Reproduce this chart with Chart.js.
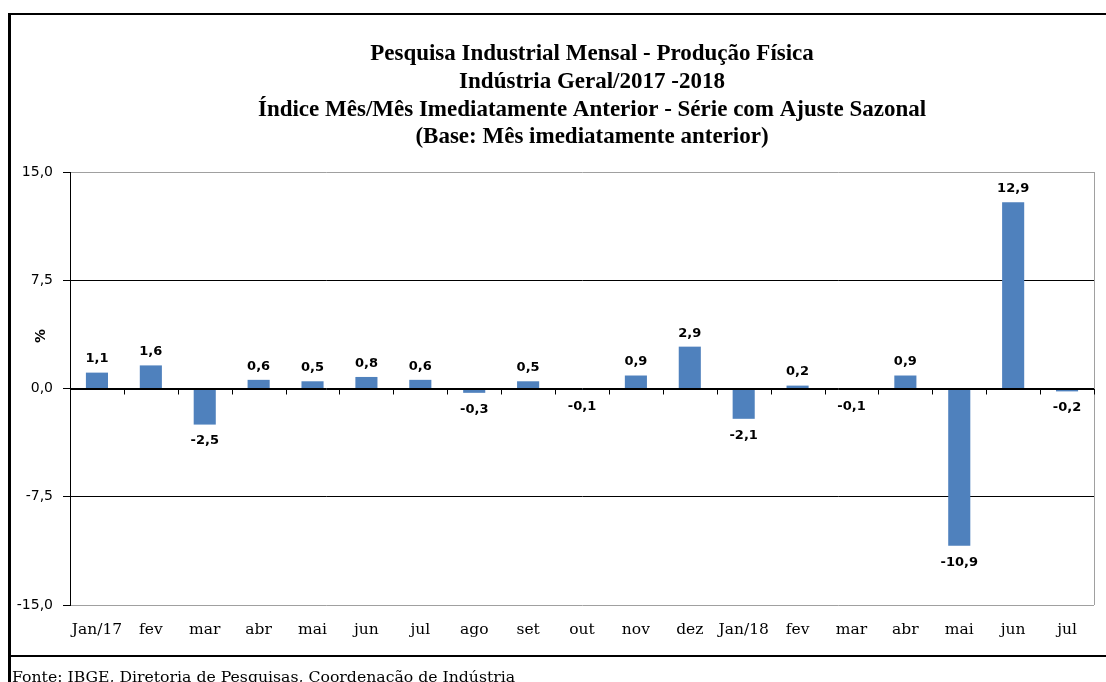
<!DOCTYPE html>
<html><head><meta charset="utf-8">
<script src="https://cdn.jsdelivr.net/npm/chart.js@4"></script>
<style>html,body{margin:0;padding:0;background:#fff}#wrap{width:1106px;height:682px;position:relative}</style>
</head><body><div id="wrap"><canvas id="c" width="1106" height="682"></canvas></div>
<script>
const categories = ['Jan/17','fev','mar','abr','mai','jun','jul','ago','set','out','nov','dez','Jan/18','fev','mar','abr','mai','jun','jul'];
const values = [1.1,1.6,-2.5,0.6,0.5,0.8,0.6,-0.3,0.5,-0.1,0.9,2.9,-2.1,0.2,-0.1,0.9,-10.9,12.9,-0.2];
const yMin = -15, yMax = 15, yStep = 7.5;
const titleLines = [
  'Pesquisa Industrial Mensal - Produção Física',
  'Indústria Geral/2017 -2018',
  'Índice Mês/Mês Imediatamente Anterior - Série com Ajuste Sazonal',
  '(Base: Mês imediatamente anterior)'
];
const yAxisTitle = '%';
const sourceText = 'Fonte: IBGE, Diretoria de Pesquisas, Coordenação de Indústria';

const fmt = v => v.toFixed(1).replace('.', ',');
const SERIF = '"Liberation Serif", "DejaVu Serif", serif';
const DSERIF = '"DejaVu Serif", "Liberation Serif", serif';
const SANS = '"DejaVu Sans", Verdana, sans-serif';

const framePlugin = {
  id: 'frame',
  beforeDraw(chart) {
    const ctx = chart.ctx;
    ctx.save();
    ctx.fillStyle = '#fff';
    ctx.fillRect(0, 0, chart.width, chart.height);
    ctx.strokeStyle = '#000';
    ctx.lineWidth = 2;
    ctx.beginPath(); ctx.moveTo(8, 14); ctx.lineTo(1106, 14); ctx.stroke();
    ctx.beginPath(); ctx.moveTo(8, 656); ctx.lineTo(1106, 656); ctx.stroke();
    ctx.lineWidth = 3;
    ctx.beginPath(); ctx.moveTo(9.5, 13); ctx.lineTo(9.5, 682); ctx.stroke();
    // title
    ctx.fillStyle = '#000';
    ctx.textAlign = 'center';
    ctx.textBaseline = 'alphabetic';
    ctx.font = 'bold 23px ' + SERIF;
    const ys = [60, 88, 116, 143];
    titleLines.forEach((t, i) => ctx.fillText(t, 592, ys[i]));
    // source
    ctx.textAlign = 'left';
    ctx.font = '15.7px ' + DSERIF;
    ctx.fillText(sourceText, 12, 682);
    // y axis title
    ctx.save();
    ctx.translate(41, 336);
    ctx.rotate(-Math.PI / 2);
    ctx.textAlign = 'center';
    ctx.textBaseline = 'middle';
    ctx.font = 'bold 14px ' + SANS;
    ctx.fillText(yAxisTitle, 0, 0);
    ctx.restore();
    ctx.restore();
  },
  afterDatasetsDraw(chart) {
    const ctx = chart.ctx;
    const a = chart.chartArea;
    const y = chart.scales.y;
    ctx.save();
    // right plot border
    ctx.strokeStyle = '#a0a0a0';
    ctx.lineWidth = 1;
    ctx.beginPath(); ctx.moveTo(a.right + 0.5, a.top); ctx.lineTo(a.right + 0.5, a.bottom); ctx.stroke();
    // zero axis line with tick marks
    const zy = Math.round(y.getPixelForValue(0)) + 0.5;
    ctx.strokeStyle = '#000';
    ctx.beginPath(); ctx.moveTo(a.left, zy); ctx.lineTo(a.right + 1, zy); ctx.stroke();
    const n = categories.length;
    const w = (a.right - a.left) / n;
    for (let i = 1; i <= n; i++) {
      const px = Math.round(a.left + i * w) + 0.5;
      ctx.beginPath(); ctx.moveTo(px, zy); ctx.lineTo(px, zy + 5); ctx.stroke();
    }
    // data labels
    ctx.fillStyle = '#000';
    ctx.textAlign = 'center';
    ctx.font = 'bold 13px ' + SANS;
    const meta = chart.getDatasetMeta(0);
    meta.data.forEach((el, i) => {
      const v = values[i];
      if (v >= 0) {
        ctx.textBaseline = 'bottom';
        ctx.fillText(fmt(v), el.x, el.y - 7);
      } else {
        ctx.textBaseline = 'top';
        ctx.fillText(fmt(v), el.x, el.y + 10);
      }
    });
    ctx.restore();
  }
};

new Chart(document.getElementById('c'), {
  type: 'bar',
  data: {
    labels: categories,
    datasets: [{
      data: values,
      backgroundColor: '#4F81BD',
      borderWidth: 0,
      barPercentage: 0.41,
      categoryPercentage: 1.0
    }]
  },
  options: {
    responsive: false,
    devicePixelRatio: 1,
    animation: false,
    layout: { padding: { top: 172, left: 0, right: 12, bottom: 37 } },
    plugins: { legend: { display: false }, title: { display: false }, tooltip: { enabled: false } },
    scales: {
      x: {
        grid: { display: false, drawTicks: false },
        border: { display: false },
        ticks: { color: '#000', font: { family: DSERIF, size: 15.5 }, padding: 16, maxRotation: 0, autoSkip: false },
        afterFit(s) { s.height = 40; }
      },
      y: {
        min: yMin, max: yMax,
        afterBuildTicks(s) {
          const t = [];
          for (let v = yMin; v <= yMax + 1e-9; v += yStep) t.push({ value: v });
          s.ticks = t;
        },
        grid: {
          color: c => (Math.abs(c.tick.value) === 15 ? '#a0a0a0' : '#000'),
          lineWidth: 1,
          tickColor: '#000',
          tickLength: 7
        },
        border: { display: true, color: '#000', width: 1 },
        ticks: { color: '#000', font: { family: SANS, size: 14 }, padding: 10, callback: v => fmt(v) },
        afterFit(s) { s.width = 70; }
      }
    }
  },
  plugins: [framePlugin]
});
</script>
</body></html>
